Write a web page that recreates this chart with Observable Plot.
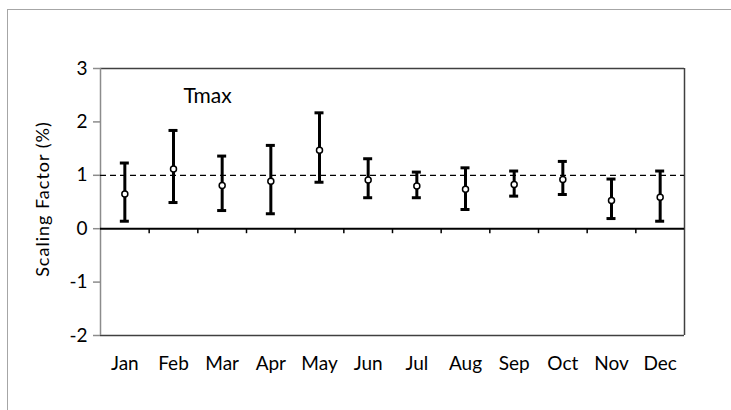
<!DOCTYPE html>
<html><head><meta charset="utf-8">
<script src="https://cdn.jsdelivr.net/npm/d3@7"></script>
<script src="https://cdn.jsdelivr.net/npm/@observablehq/plot@0.6"></script>
<style>
html,body{margin:0;padding:0;background:#fff;overflow:hidden;}
#wrap{position:relative;width:731px;height:410px;overflow:hidden;}
#border{position:absolute;left:7px;top:9px;width:800px;height:500px;border:1.5px solid #a6a6a6;box-sizing:border-box;}
#chart{position:absolute;left:0;top:0;}
</style></head><body><div id="wrap"><div id="border"></div><div id="chart"></div></div>
<script>
const months = ["Jan","Feb","Mar","Apr","May","Jun","Jul","Aug","Sep","Oct","Nov","Dec"];
const means = [0.65, 1.12, 0.81, 0.89, 1.47, 0.91, 0.80, 0.74, 0.83, 0.92, 0.53, 0.59];
const lows  = [0.14, 0.49, 0.34, 0.28, 0.87, 0.58, 0.58, 0.36, 0.61, 0.64, 0.19, 0.14];
const highs = [1.23, 1.84, 1.36, 1.56, 2.17, 1.31, 1.06, 1.14, 1.08, 1.26, 0.93, 1.08];
const yTicks = [-2, -1, 0, 1, 2, 3];
const yDomain = [-2, 3];
const reference = 1;
const panelLabel = "Tmax";
const yLabel = "Scaling Factor (%)";

const data = months.map((m, i) => ({idx: i + 1, month: m, mean: means[i], lo: lows[i], hi: highs[i]}));
const xDomain = [0.5, months.length + 0.5];
const bounds = d3.range(1.5, months.length, 1);

const chart = Plot.plot({
  width: 731, height: 410,
  marginLeft: 100, marginRight: 47, marginTop: 68, marginBottom: 75,
  style: {fontFamily: "Lato, 'Open Sans', sans-serif", fontSize: "19px", color: "#000", background: "transparent", overflow: "visible"},
  x: {domain: xDomain},
  y: {domain: yDomain},
  marks: [
    Plot.axisY({ticks: yTicks, tickSize: 7, tickPadding: 6, stroke: "#8c8c8c", strokeWidth: 1.5, fill: "#000", label: null, tickFormat: d => String(d)}),
    Plot.axisX({ticks: d3.range(1, months.length + 1), tickFormat: d => months[d - 1], tickSize: 0, tickPadding: 21, fill: "#000", label: null}),
    Plot.ruleY(yDomain, {stroke: "#404040", strokeWidth: 1.5}),
    Plot.ruleX([xDomain[1]], {stroke: "#404040", strokeWidth: 1.5}),
    Plot.ruleX([xDomain[0]], {stroke: "#8c8c8c", strokeWidth: 1.5}),
    Plot.ruleY([reference], {stroke: "#000", strokeWidth: 1.3, strokeDasharray: "6,4"}),
    Plot.ruleY([0], {stroke: "#000", strokeWidth: 2}),
    Plot.ruleX(bounds, {y1: 0, y2: 0, insetBottom: -5, stroke: "#000", strokeWidth: 1.5}),
    Plot.ruleX(data, {x: "idx", y1: "lo", y2: "hi", stroke: "#000", strokeWidth: 3}),
    Plot.ruleY(data, {y: "hi", x1: "idx", x2: "idx", insetLeft: -4.5, insetRight: -4.5, stroke: "#000", strokeWidth: 3}),
    Plot.ruleY(data, {y: "lo", x1: "idx", x2: "idx", insetLeft: -4.5, insetRight: -4.5, stroke: "#000", strokeWidth: 3}),
    Plot.dot(data, {x: "idx", y: "mean", r: 3, fill: "#fff", stroke: "#000", strokeWidth: 1.5}),
    Plot.text([panelLabel], {frameAnchor: "top-left", dx: 83, dy: 20, textAnchor: "start", fontSize: 21, fill: "#000", text: d => d}),
    Plot.text([yLabel], {frameAnchor: "left", dx: -57, dy: -3, rotate: -90, textAnchor: "middle", fontSize: 18, fill: "#000", text: d => d})
  ]
});
chart.querySelectorAll("text").forEach(t => { if (t.textContent === yLabel) t.setAttribute("letter-spacing", "1"); });
document.getElementById("chart").appendChild(chart);
</script>
</body></html>
